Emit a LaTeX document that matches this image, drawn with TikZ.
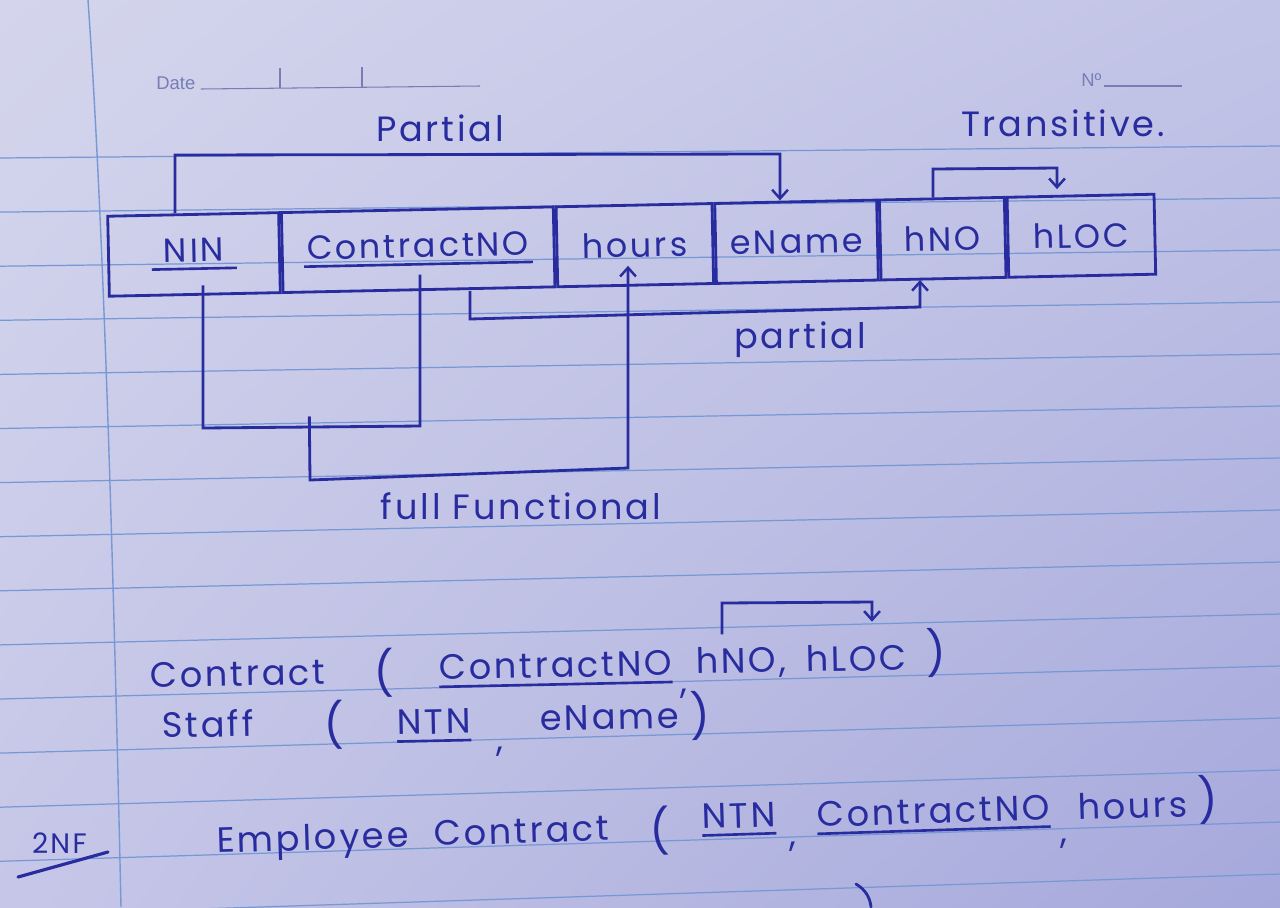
\documentclass[tikz,border=0pt]{standalone}
\usepackage{fontspec}
\usetikzlibrary{arrows.meta,calc,shadings}
\newfontfamily\hand[LetterSpace=8]{Poppins}
\newfontfamily\printfont{Liberation Sans}
\definecolor{ink}{RGB}{40,44,158}
\definecolor{ruleblue}{RGB}{118,152,212}
\definecolor{printc}{RGB}{118,126,180}
\definecolor{pUL}{RGB}{212,213,236}
\definecolor{pUR}{RGB}{194,196,231}
\definecolor{pLL}{RGB}{198,199,232}
\definecolor{pLR}{RGB}{165,168,219}
\newcommand\undl[2][0pt]{\vtop{\hbox{\kern#1#2\kern#1}\kern3pt\hrule height 1.5pt}}
\begin{document}
\begin{tikzpicture}[x=0.02cm,y=-0.02cm,
  inkline/.style={draw=ink, line width=1.6pt, line join=miter},
  dep/.style={inkline, -{Straight Barb[length=5pt,width=9pt,line width=1.4pt]}},
  cell/.style={draw=ink, line width=1.6pt, minimum height=1.6cm, inner sep=0pt, text=ink,
    font=\hand\fontsize{19}{22}\selectfont, anchor=west},
  lbl/.style={text=ink, font=\hand\fontsize{20}{24}\selectfont, inner sep=1pt},
  rel/.style={text=ink, font=\hand\fontsize{20}{24}\selectfont, inner sep=1pt, anchor=base west},
  paren/.style={rel, font=\hand\fontsize{25}{29}\selectfont},
  ruled/.style={draw=ruleblue, line width=0.7pt},
  printed/.style={text=printc, font=\printfont\fontsize{10.5}{12}\selectfont, inner sep=0pt, anchor=base west},
]
\useasboundingbox (0,0) rectangle (1280,907);
% paper
\shade[upper left=pUL, upper right=pUR, lower left=pLL, lower right=pLR] (0,0) rectangle (1280,907);
\foreach \i in {0,...,14} {
  \draw[ruled] (0,{158+54.1*\i}) -- (1280,{146+52*\i});
}
\draw[ruled, line width=0.8pt] (88,0) .. controls (102,200) and (112,500) .. (121,907);
% header
\node[printed] (date) at (156,89) {Date};
\draw[printc, line width=0.6pt] ([xshift=3pt]date.base east) -- (480,86);
\draw[printc, line width=0.6pt] (280,68) -- (280,88);
\draw[printc, line width=0.6pt] (362,67) -- (362,87);
\node[printed] (numero) at (1081,86) {Nº};
\draw[printc, line width=0.6pt] ([xshift=1pt]numero.base east) -- (1182,86);

% table
\begin{scope}[rotate around={1.2:(620,245.5)}, transform shape]
\node[cell, minimum width=3.42cm] (nin) at (107,245.5) {\undl[7pt]{NIN}};
\node[cell, minimum width=5.44cm] (cno) at (nin.east) {\undl[2pt]{ContractNO}};
\node[cell, minimum width=3.12cm] (hrs) at (cno.east) {hours};
\node[cell, minimum width=3.24cm] (ename) at (hrs.east) {eName};
\node[cell, minimum width=2.50cm] (hno) at (ename.east) {hNO};
\node[cell, minimum width=2.94cm] (hloc) at (hno.east) {hLOC};
\end{scope}

% partial (top)
\coordinate (pt1) at (175,155);
\coordinate (pt2) at (780,154);
\draw[dep] (nin.north -| pt1) -- (pt1) -- (pt2) -- (ename.north -| pt2);
\node[lbl] (lpartial) at (440,128) {Partial};

% transitive
\coordinate (tr1) at (933,169);
\coordinate (tr2) at (1057,168);
\draw[dep, shorten >=3pt] (hno.north -| tr1) -- (tr1) -- (tr2) -- (hloc.north -| tr2);
\node[lbl] (ltrans) at (1063,123) {Transitive.};

% partial (bottom)
\coordinate (pb1) at (470,319);
\coordinate (pb2) at (920,307);
\draw[dep] (cno.south -| pb1) -- (pb1) -- (pb2) -- (hno.south -| pb2);
\node[lbl] (lpartial2) at (800,340) {partial};

% full functional
\coordinate (ninlow) at ($(nin.center)!0.75!(nin.south)$);
\coordinate (cnolow) at ($(cno.center)!0.6!(cno.south)$);
\coordinate (hrstip) at ($(hrs.center)!0.5!(hrs.south)$);
\coordinate (f1) at (203,428);
\coordinate (f2) at (420,426);
\draw[inkline] (ninlow -| f1) -- (f1) -- (f2) -- (cnolow -| f2);
\coordinate (f3) at ($(f1)!0.49!(f2)$);
\coordinate (f4) at (310,480);
\coordinate (f5) at (628,468);
\draw[dep] ([yshift=6pt]f3) -- (f4) -- (f5) -- (hrstip -| f5);
\node[lbl] (lfull) at (521,506) {full Functional};

% Contract relation
\node[rel, rotate=1.2] (r1a) at (148,688) {Contract};
\node[paren, rotate=1.2] (r1p) at (372,690) {(};
\node[rel, rotate=1.2] (r1b) at (437,680) {\undl{ContractNO}};
\node[rel, rotate=1.2] (r1c) at (678,694) {,};
\node[rel, rotate=1.2] (r1d) at (694,674) {hNO,};
\node[rel, rotate=1.2] (r1e) at (804,672) {hLOC};
\node[paren, rotate=1.2] (r1f) at (924,670) {)};
\coordinate (br1) at (722,603);
\coordinate (br2) at (872,602);
\draw[dep, shorten <=6pt, shorten >=12pt] (r1d.north -| br1) -- (br1) -- (br2) -- (r1e.north -| br2);

% Staff relation
\node[rel, rotate=1.2] (r2a) at (160,738) {Staff};
\node[paren, rotate=1.2] (r2p) at (322,742) {(};
\node[rel, rotate=1.2] (r2b) at (395,735) {\undl{NTN}};
\node[rel, rotate=1.2] (r2c) at (494,752) {,};
\node[rel, rotate=1.2] (r2d) at (538,731) {eName};
\node[paren, rotate=1.2] (r2q) at (688,733) {)};

% 2NF
\node[rel, font=\hand\fontsize{16}{18}\selectfont] (nf) at (30,853) {2NF};
\coordinate (u1) at (18,877);
\coordinate (u2) at (108,852);
\draw[inkline, line width=1.8pt, line cap=round] (u1) -- (u2);

% Employee Contract relation
\node[rel, rotate=1.8] (r3a) at (215,853) {Employee};
\node[rel, rotate=1.8] (r3b) at (432,846) {Contract};
\node[paren, rotate=1.8] (r3p) at (648,848) {(};
\node[rel, rotate=1.8] (r3c) at (700,829) {\undl{NTN}};
\node[rel, rotate=1.8] (r3d) at (787,847) {,};
\node[rel, rotate=1.8] (r3e) at (815,827) {\undl{ContractNO}};
\node[rel, rotate=1.8] (r3f) at (1058,844) {,};
\node[rel, rotate=1.8] (r3g) at (1076,820) {hours};
\node[paren, rotate=1.8] (r3q) at (1196,817) {)};

% cut-off stroke at the bottom edge
\draw[inkline, line cap=round] (856,884) .. controls (866,890) and (870,898) .. (871,907);
\end{tikzpicture}
\end{document}
